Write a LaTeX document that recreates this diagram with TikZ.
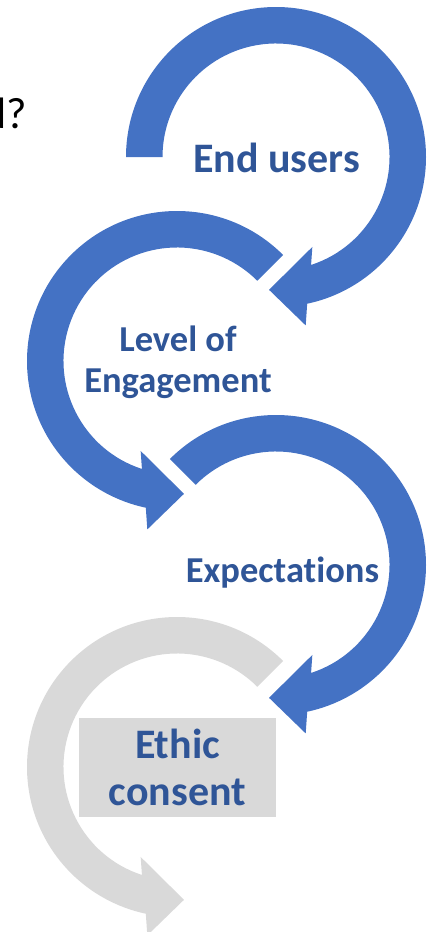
\documentclass[tikz,border=0pt]{standalone}
\usepackage{fontspec}
\setmainfont{Carlito}[Ligatures={NoCommon,NoDiscretionary}]
\usepackage{tikz}
\usetikzlibrary{positioning}

\definecolor{arrblue}{HTML}{4472C4}
\definecolor{txtblue}{HTML}{2F5597}
\definecolor{arrgrey}{HTML}{D9D9D9}

\begin{document}
\begin{tikzpicture}[x=1pt,y=-1pt,line width=0pt]

	\tikzset{cyc arrow/.pic={
			\path[pic actions] (#1:150) arc[start angle=#1, end angle=438, radius=150]
			-- (440:171) -- (453:133) -- (428:97) -- (432:113.5)
			arc[start angle=432, end angle=#1, radius=113.5] -- cycle;},
		lbl st/.style={inner sep=0pt, text=txtblue, font=\bfseries},
		box st/.style={lbl st, fill=arrgrey, align=center,
			minimum width=197pt, minimum height=99pt}}

	\clip (0,0) rectangle (437,932);

	\coordinate (EU) at (276,157);
	\coordinate (LE) at (177,361);
	\coordinate (EX) at (276,565);
	\coordinate (EC) at (177,767);

	% arrows
	\pic[fill=arrblue] at (EU) {cyc arrow=180};
	\pic[fill=arrblue, xscale=-1] at (LE) {cyc arrow=225};
	\pic[fill=arrblue] at (EX) {cyc arrow=225};
	\pic[fill=arrgrey, xscale=-1] at (EC) {cyc arrow=225};

	% labels
	\node[inner sep=0pt, anchor=base east, font=\fontsize{44}{53}\selectfont] (Q) at (27.4,128) {d?};
	\node[lbl st, anchor=base, font=\bfseries\fontsize{42}{47}\selectfont] (EUt) at (276.5,172) {End users};
	\node[lbl st, align=center, font=\bfseries\fontsize{36.5}{41}\selectfont] (LEt) at (178,362) {Level of\\Engagement};
	\node[lbl st, anchor=base, font=\bfseries\fontsize{36.5}{41}\selectfont] (EXt) at (282.5,582) {Expectations};
	\node[box st, font=\bfseries\fontsize{42}{47}\selectfont] (ECt) at (177.5,767.5) {Ethic\\consent};

\end{tikzpicture}
\end{document}
